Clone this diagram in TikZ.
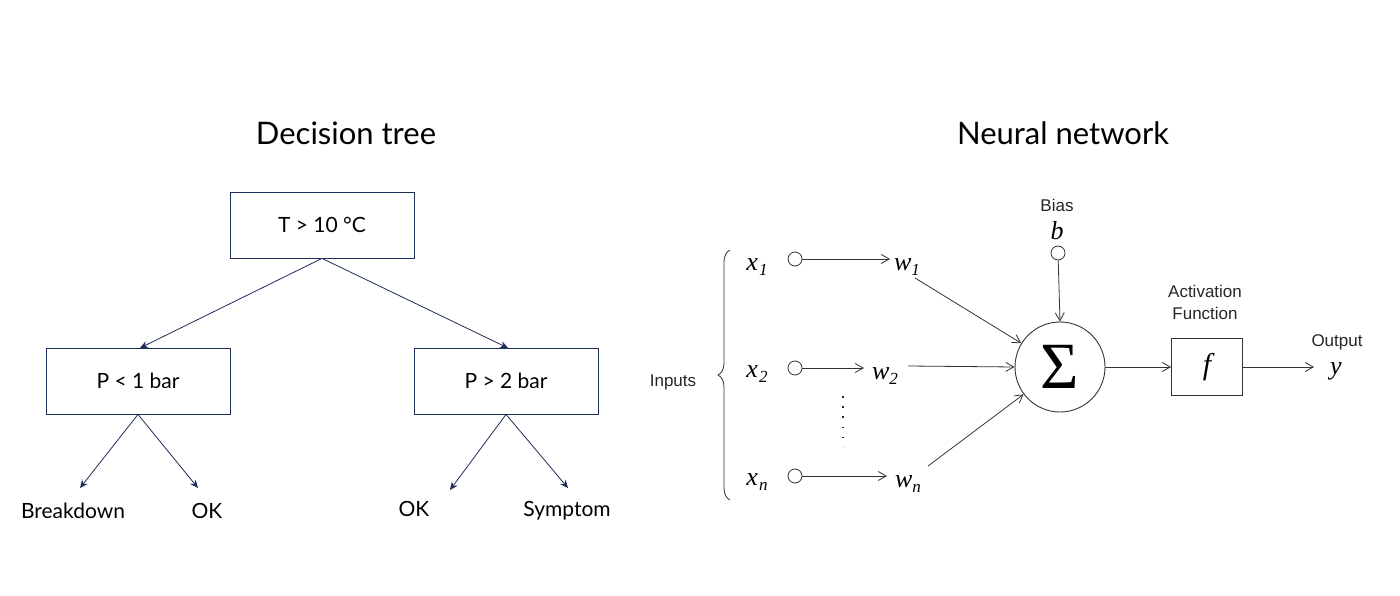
\documentclass[tikz,border=0pt]{standalone}
\usepackage{fontspec}
\setmainfont{Lato}
\newfontfamily\arial{Liberation Sans}
\newfontfamily\tms{Liberation Serif}
\usetikzlibrary{arrows.meta,decorations.pathreplacing}
\definecolor{navy}{HTML}{1F2D5A}
\tikzset{
 dbox/.style={draw=navy,line width=0.8pt,minimum width=184pt,minimum height=66pt,inner sep=0pt,font=\fontsize{21}{25}\selectfont},
 dlab/.style={font=\fontsize{21}{25}\selectfont,inner sep=0pt},
 darr/.style={navy,line width=0.8pt,-{Stealth[length=8pt,width=7pt]}},
 ttl/.style={font=\fontsize{31}{36}\selectfont,inner sep=0pt},
 nlab/.style={font=\arial\fontsize{17}{20}\selectfont,inner sep=0pt,text=black!85},
 mth/.style={font=\tms\itshape\fontsize{26}{30}\selectfont,inner sep=0pt},
 inc/.style={draw=black!80,line width=0.8pt,circle,minimum size=14pt,inner sep=0pt},
 narr/.style={black!80,line width=0.8pt,-{Straight Barb[length=8pt,width=9pt]}},
}
\newcommand{\subs}[1]{\raisebox{-5pt}{\fontsize{17}{20}\selectfont #1}}
\begin{document}
\begin{tikzpicture}[x=1pt,y=-1pt]
\useasboundingbox (0,0) rectangle (1400,596);
% decision tree
\node[ttl] (t1) at (346,133) {Decision tree};
\node[dbox] (top) at (322,225) {T > 10 °C};
\node[dbox] (lb) at (138,381) {P < 1 bar};
\node[dbox] (rb) at (506,381) {P > 2 bar};
\coordinate (lt) at (140,348); \coordinate (rt) at (508,348);
\draw[darr] (top.south) -- (lt);
\draw[darr] (top.south) -- (rt);
\coordinate (a1) at (80,488); \coordinate (a2) at (198,488);
\coordinate (a3) at (450,490); \coordinate (a4) at (568,488);
\draw[darr] (lb.south) -- (a1);
\draw[darr] (lb.south) -- (a2);
\draw[darr] (rb.south) -- (a3);
\draw[darr] (rb.south) -- (a4);
\node[dlab] (l1) at (73,511) {Breakdown};
\node[dlab] (l2) at (207,511) {OK};
\node[dlab] (l3) at (414,509) {OK};
\node[dlab] (l4) at (567,511) {Symptom};
% neural network
\node[ttl] (t2) at (1063,133) {Neural network};
\node[nlab] (inp) at (673,382) {Inputs};
\coordinate (bt) at (730,250); \coordinate (bb) at (730,500);
\draw[black!80,line width=0.8pt,decorate,decoration={brace,amplitude=12pt}] (bb) -- (bt);
\node[mth] (x1) at (757,267) {x\kern1pt\subs{1}};
\node[mth] (x2) at (757,374) {x\kern1pt\subs{2}};
\node[mth] (xn) at (757,482) {x\kern1pt\subs{n}};
\node[inc] (c1) at (795,259) {};
\node[inc] (c2) at (795,368) {};
\node[inc] (cn) at (795,476) {};
\coordinate (e1) at (890,259); \coordinate (e2) at (864,368); \coordinate (en) at (887,476);
\draw[narr] (c1) -- (e1);
\draw[narr] (c2) -- (e2);
\draw[narr] (cn) -- (en);
\node[mth] (w1) at (907,267) {w\subs{1}};
\node[mth] (w2) at (885,376) {w\subs{2}};
\node[mth] (wn) at (908,484) {w\subs{n}};
\coordinate (d1) at (843,396); \coordinate (d2) at (843,447);
\draw[black!85,line width=1.6pt,dash pattern=on 1.6pt off 8.6pt] (d1) -- (d2);
\node[draw=black!80,line width=0.9pt,circle,minimum size=90pt,inner sep=0pt,font=\tms\fontsize{66}{70}\selectfont] (sum) at (1060,367) {\raisebox{-2pt}{Σ}};
\coordinate (s1) at (915,278); \coordinate (s2) at (908,366); \coordinate (s3) at (928,466);
\draw[narr] (s1) -- (sum);
\draw[narr] (s2) -- (sum.west);
\draw[narr] (s3) -- (sum);
\node[nlab] (bias) at (1057,205) {Bias};
\node[mth] (b) at (1057,231) {b};
\node[inc] (cb) at (1058,253) {};
\draw[narr] (cb) -- (sum.north);
\node[draw=black!80,line width=0.9pt,minimum width=71pt,minimum height=57pt,inner sep=0pt] (f) at (1207,367) {\tms\itshape\fontsize{30}{32}\selectfont f};
\draw[narr] (sum.east) -- (f.west);
\node[nlab,align=center] (act) at (1205,302) {Activation\\[2pt]Function};
\node[nlab] (out) at (1337,342) {Output};
\node[mth] (y) at (1336,371) {y};
\coordinate (ye) at (1314,367);
\draw[narr] (f.east) -- (ye);
\end{tikzpicture}
\end{document}
